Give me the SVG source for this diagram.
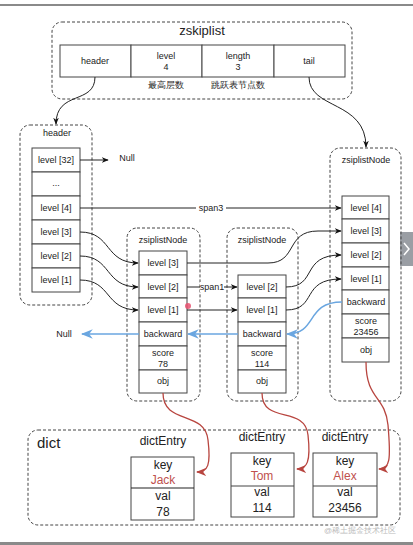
<svg xmlns="http://www.w3.org/2000/svg" width="413" height="545" viewBox="0 0 413 545">
<defs>
<style>
text{font-family:"Liberation Sans",Arial,sans-serif;fill:#222;text-anchor:middle;dominant-baseline:central}
.c{fill:#fff;stroke:#444;stroke-width:1}
.box{fill:none;stroke:#444;stroke-width:1;stroke-dasharray:3,2}
.t{font-size:9px}
.d{font-size:12px}
.ln{fill:none;stroke:#222;stroke-width:1}
.bl{fill:none;stroke:#6aa6e0;stroke-width:1.5}
.rd{fill:none;stroke:#b8453f;stroke-width:1.3}
.red{fill:#c0504d}
</style>
<marker id="a" viewBox="0 0 10 10" refX="9" refY="5" markerWidth="7" markerHeight="7" orient="auto"><path d="M0,1 L10,5 L0,9 L3,5 Z" fill="#111"/></marker>
<marker id="ab" viewBox="0 0 10 10" refX="9" refY="5" markerWidth="8" markerHeight="8" orient="auto"><path d="M0,1 L10,5 L0,9 L3,5 Z" fill="#6aa6e0"/></marker>
<marker id="ar" viewBox="0 0 10 10" refX="9" refY="5" markerWidth="8" markerHeight="8" orient="auto"><path d="M0,1 L10,5 L0,9 L3,5 Z" fill="#b8453f"/></marker>
</defs>
<rect width="413" height="545" fill="#fff"/>
<rect x="0" y="4" width="413" height="2" fill="#8a8a8a"/>
<rect x="0" y="542" width="413" height="3" fill="#8a8a8a"/>
<rect x="400" y="232" width="13" height="34" fill="#9a9ea4"/>
<path d="M404,243 L409,249 L404,255" fill="none" stroke="#fff" stroke-width="1.5"/>

<g id="zskiplist">
<rect class="box" x="52" y="22" width="300" height="77" rx="10"/>
<text x="202" y="30" style="font-size:13px">zskiplist</text>
<rect class="c" x="60" y="45" width="71" height="32"/>
<rect class="c" x="131" y="45" width="71" height="32"/>
<rect class="c" x="202" y="45" width="72" height="32"/>
<rect class="c" x="274" y="45" width="71" height="32"/>
<text class="t" x="95" y="61">header</text>
<text class="t" x="166" y="56">level</text><text class="t" x="166" y="67">4</text>
<text class="t" x="238" y="56">length</text><text class="t" x="238" y="67">3</text>
<text class="t" x="309" y="61">tail</text>
<text class="t" x="166" y="85">最高层数</text>
<text class="t" x="238" y="85">跳跃表节点数</text>
</g>

<g id="header">
<rect class="box" x="20" y="125" width="72" height="180" rx="10"/>
<text class="t" x="57" y="133">header</text>
<rect class="c" x="32" y="148" width="48" height="24"/>
<rect class="c" x="32" y="172" width="48" height="24"/>
<rect class="c" x="32" y="196" width="48" height="24"/>
<rect class="c" x="32" y="220" width="48" height="24"/>
<rect class="c" x="32" y="244" width="48" height="24"/>
<rect class="c" x="32" y="268" width="48" height="24"/>
<text class="t" x="56" y="160">level [32]</text>
<text class="t" x="56" y="183">...</text>
<text class="t" x="56" y="208">level [4]</text>
<text class="t" x="56" y="232">level [3]</text>
<text class="t" x="56" y="256">level [2]</text>
<text class="t" x="56" y="280">level [1]</text>
</g>

<g id="node1">
<rect class="box" x="127" y="228" width="73" height="173" rx="10"/>
<text class="t" x="163" y="240">zsiplistNode</text>
<rect class="c" x="139" y="251" width="48" height="24"/>
<rect class="c" x="139" y="275" width="48" height="23"/>
<rect class="c" x="139" y="298" width="48" height="24"/>
<rect class="c" x="139" y="322" width="48" height="24"/>
<rect class="c" x="139" y="346" width="48" height="24"/>
<rect class="c" x="139" y="370" width="48" height="23"/>
<text class="t" x="163" y="263">level [3]</text>
<text class="t" x="163" y="287">level [2]</text>
<text class="t" x="163" y="310">level [1]</text>
<text class="t" x="163" y="334">backward</text>
<text class="t" x="163" y="353">score</text><text class="t" x="163" y="364">78</text>
<text class="t" x="163" y="381">obj</text>
</g>

<g id="node2">
<rect class="box" x="227" y="228" width="71" height="173" rx="10"/>
<text class="t" x="262" y="240">zsiplistNode</text>
<rect class="c" x="238" y="275" width="48" height="23"/>
<rect class="c" x="238" y="298" width="48" height="24"/>
<rect class="c" x="238" y="322" width="48" height="24"/>
<rect class="c" x="238" y="346" width="48" height="24"/>
<rect class="c" x="238" y="370" width="48" height="23"/>
<text class="t" x="262" y="287">level [2]</text>
<text class="t" x="262" y="310">level [1]</text>
<text class="t" x="262" y="334">backward</text>
<text class="t" x="262" y="353">score</text><text class="t" x="262" y="364">114</text>
<text class="t" x="262" y="381">obj</text>
</g>

<g id="node3">
<rect class="box" x="330" y="148" width="71" height="253" rx="10"/>
<text class="t" x="366" y="160">zsiplistNode</text>
<rect class="c" x="342" y="196" width="47" height="23"/>
<rect class="c" x="342" y="219" width="47" height="24"/>
<rect class="c" x="342" y="243" width="47" height="24"/>
<rect class="c" x="342" y="267" width="47" height="23"/>
<rect class="c" x="342" y="290" width="47" height="24"/>
<rect class="c" x="342" y="314" width="47" height="24"/>
<rect class="c" x="342" y="338" width="47" height="24"/>
<text class="t" x="366" y="208">level [4]</text>
<text class="t" x="366" y="231">level [3]</text>
<text class="t" x="366" y="255">level [2]</text>
<text class="t" x="366" y="279">level [1]</text>
<text class="t" x="366" y="302">backward</text>
<text class="t" x="366" y="321">score</text><text class="t" x="366" y="332">23456</text>
<text class="t" x="366" y="350">obj</text>
</g>

<g id="dict">
<rect class="box" x="28" y="430" width="372" height="95" rx="10"/>
<text x="37" y="442" style="font-size:15px;text-anchor:start">dict</text>
</g>
<g id="entry1">
<text class="d" x="163" y="441">dictEntry</text>
<rect class="c" x="131" y="457" width="63" height="63"/>
<line x1="131" y1="488" x2="194" y2="488" stroke="#222" stroke-width="1.2"/>
<text class="d" x="163" y="465">key</text>
<text class="d red" x="163" y="480">Jack</text>
<text class="d" x="163" y="496">val</text>
<text class="d" x="163" y="512">78</text>
</g>
<g id="entry2">
<text class="d" x="262" y="437">dictEntry</text>
<rect class="c" x="231" y="453" width="63" height="64"/>
<line x1="231" y1="486" x2="294" y2="486" stroke="#444"/>
<text class="d" x="262" y="461">key</text>
<text class="d red" x="262" y="476">Tom</text>
<text class="d" x="262" y="492">val</text>
<text class="d" x="262" y="508">114</text>
</g>
<g id="entry3">
<text class="d" x="345" y="437">dictEntry</text>
<rect class="c" x="313" y="453" width="64" height="64"/>
<line x1="313" y1="486" x2="377" y2="486" stroke="#444"/>
<text class="d" x="345" y="461">key</text>
<text class="d red" x="345" y="476">Alex</text>
<text class="d" x="345" y="492">val</text>
<text class="d" x="345" y="508">23456</text>
</g>

<g id="connectors">
<path class="ln" d="M95,77 C95,105 56,90 56,124" marker-end="url(#a)"/>
<path class="ln" d="M309,77 C309,110 366,100 366,147" marker-end="url(#a)"/>
<path class="ln" d="M80,160 L108,160" marker-end="url(#a)"/>
<text class="t" x="127" y="158">Null</text>
<path class="ln" d="M80,208 L341,208" marker-end="url(#a)"/>
<rect x="196" y="203" width="30" height="10" fill="#fff"/>
<text class="t" x="211" y="208">span3</text>
<path class="ln" d="M80,232 C112,232 104,263 138,263" marker-end="url(#a)"/>
<path class="ln" d="M80,256 C112,256 104,287 138,287" marker-end="url(#a)"/>
<path class="ln" d="M80,280 C112,280 104,310 138,310" marker-end="url(#a)"/>
<path class="ln" d="M187,263 L268,263 C298,263 285,231 318,231 L341,231" marker-end="url(#a)"/>
<path class="ln" d="M187,287 L237,287" marker-end="url(#a)"/>
<rect x="200" y="282" width="24" height="10" fill="#fff"/>
<text class="t" x="212" y="287">span1</text>
<path class="ln" d="M187,310 L237,310" marker-end="url(#a)"/>
<path class="ln" d="M286,287 C318,287 300,255 341,255" marker-end="url(#a)"/>
<path class="ln" d="M286,310 C318,310 300,279 341,279" marker-end="url(#a)"/>
<path class="bl" d="M342,302 C305,302 318,334 287,334" marker-end="url(#ab)"/>
<path class="bl" d="M238,334 L188,334" marker-end="url(#ab)"/>
<path class="bl" d="M139,334 L82,334" marker-end="url(#ab)"/>
<text class="t" x="64" y="334">Null</text>
<path class="rd" d="M163,393 C163,425 205,410 208,440 C211,465 208,472 197,472" marker-end="url(#ar)"/>
<path class="rd" d="M262,393 C262,425 305,405 308,435 C311,462 307,469 297,469" marker-end="url(#ar)"/>
<path class="rd" d="M366,362 C366,400 385,395 388,425 C391,460 390,469 379,469" marker-end="url(#ar)"/>
</g>
<circle cx="188" cy="306" r="3" fill="#e8506e" opacity="0.85"/>
<text x="360" y="530" style="font-size:8px;fill:#bbb">@稀土掘金技术社区</text>
</svg>
